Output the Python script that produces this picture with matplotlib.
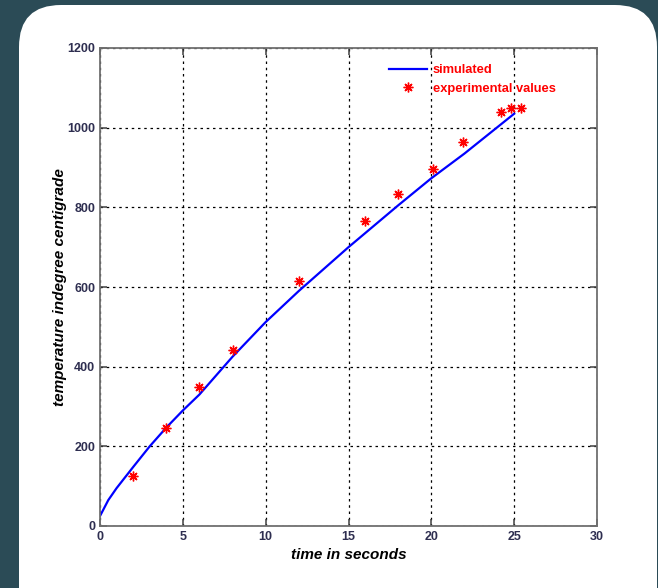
import matplotlib.pyplot as plt
from matplotlib.patches import FancyBboxPatch

plt.rcParams['font.family'] = ['Liberation Sans', 'DejaVu Sans']

# simulated curve
sim_t = [0, 0.5, 1, 2, 3, 4, 5, 6, 8, 10, 12, 15, 18, 20, 22, 25]
sim_temp = [25, 65, 95, 148, 200, 247, 290, 330, 425, 512, 590, 700, 805, 873, 935, 1035]

# experimental points
exp_t = [2, 4, 6, 8, 12, 16, 18, 20.1, 21.9, 24.2, 24.8, 25.4]
exp_temp = [125, 245, 350, 442, 615, 765, 833, 895, 965, 1040, 1049, 1049]

x_ticks = [0, 5, 10, 15, 20, 25, 30]
y_ticks = [0, 200, 400, 600, 800, 1000, 1200]

W, H = 658, 588
fig = plt.figure(figsize=(W / 100, H / 100), dpi=100)
fig.patch.set_facecolor('#2b4b56')

# white rounded panel behind the plot
ax_bg = fig.add_axes([0, 0, 1, 1])
ax_bg.set_xlim(0, W)
ax_bg.set_ylim(H, 0)
ax_bg.axis('off')
ax_bg.add_patch(FancyBboxPatch((19, 5), 638, 640,
                               boxstyle='round,pad=0,rounding_size=42',
                               facecolor='white', edgecolor='none'))

ax = fig.add_axes([100 / W, 1 - 526 / H, 497 / W, 478 / H])
ax.set_facecolor('white')

ax.plot(sim_t, sim_temp, color='#0000ff', linewidth=1.6, label='simulated')
ax.plot(exp_t, exp_temp, linestyle='none', marker=(8, 2, 0), markersize=7,
        markeredgewidth=1.0, color='#ff0000', label='experimental values')

ax.set_xlim(0, 30)
ax.set_ylim(0, 1200)
ax.set_xticks(x_ticks)
ax.set_yticks(y_ticks)
ax.grid(True, color='black', linestyle=(0, (2, 3)), linewidth=0.9)

for s in ax.spines.values():
    s.set_color('#707070')
    s.set_linewidth(1.3)
ax.tick_params(direction='in', length=5, width=1.1, color='#404040',
               top=True, right=True, labelsize=9, labelcolor='#2e2e50')
for lbl in ax.get_xticklabels() + ax.get_yticklabels():
    lbl.set_fontweight('bold')

ax.set_xlabel('time in seconds', fontsize=11, fontweight='bold',
              fontstyle='italic', labelpad=4)
ax.set_ylabel('temperature indegree centigrade', fontsize=11,
              fontweight='bold', fontstyle='italic', labelpad=0)

leg = ax.legend(loc='upper right', bbox_to_anchor=(0.94, 0.99), frameon=False,
                fontsize=9.3, handlelength=2.9, handletextpad=0.45,
                labelspacing=0.5)
for txt in leg.get_texts():
    txt.set_color('#ff0000')
    txt.set_fontweight('bold')

fig.savefig('out.png', dpi=100, facecolor=fig.get_facecolor())
